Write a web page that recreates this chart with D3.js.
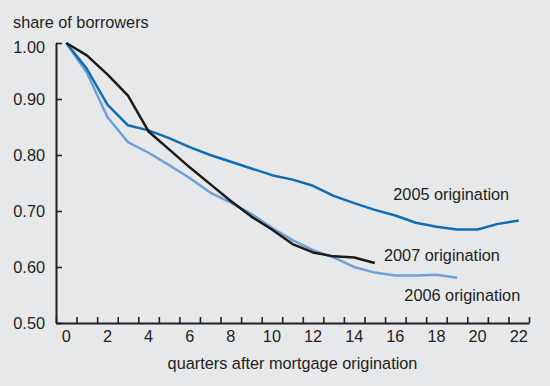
<!DOCTYPE html>
<html>
<head>
<meta charset="utf-8">
<script src="https://cdnjs.cloudflare.com/ajax/libs/d3/7.8.5/d3.min.js"></script>
<style>
  body { margin: 0; background: #e7e8ea; }
  text { font-family: "Liberation Sans", Arial, sans-serif; fill: #231f20; }
</style>
</head>
<body>
<div id="chart"></div>
<script>
var svgWidth = 550;
var svgHeight = 386;

// quarters after origination
var quarters = d3.range(0, 23);

// share of borrowers still current, by origination year
var share2005 = [1.00, 0.954, 0.890, 0.853, 0.844, 0.830, 0.814, 0.800, 0.788, 0.776, 0.764, 0.756,
  0.745, 0.727, 0.714, 0.702, 0.692, 0.679, 0.672, 0.667, 0.667, 0.677, 0.683];
var share2006 = [1.00, 0.947, 0.868, 0.823, 0.804, 0.782, 0.759, 0.733, 0.715, 0.695, 0.670, 0.648,
  0.630, 0.617, 0.600, 0.590, 0.585, 0.585, 0.586, 0.581];
var share2007 = [1.00, 0.978, 0.944, 0.906, 0.842, 0.810, 0.778, 0.748, 0.718, 0.690, 0.667, 0.641,
  0.626, 0.619, 0.617, 0.607];

var xTickLabels = [0, 2, 4, 6, 8, 10, 12, 14, 16, 18, 20, 22];
var yTickValues = [0.5, 0.6, 0.7, 0.8, 0.9, 1.0];

var seriesNames = ["2005 origination", "2006 origination", "2007 origination"];
var seriesColors = ["#106db1", "#6fa1d6", "#1c1a1b"];
var seriesValues = [share2005, share2006, share2007];

// where each line's label sits, in quarters / share units
var labelAt = [[15.9, 0.719], [16.44, 0.540], [15.45, 0.611]];

var margin = { top: 43, right: 21, bottom: 63, left: 56 };
var width = svgWidth - margin.left - margin.right;
var height = svgHeight - margin.top - margin.bottom;

var svg = d3.select("#chart")
  .append("svg")
  .attr("width", svgWidth)
  .attr("height", svgHeight);

var chartGroup = svg.append("g")
  .attr("transform", `translate(${margin.left}, ${margin.top})`);

// quarters are centred between the tick marks
var xScale = d3.scaleLinear()
  .domain([-0.5, 22.5])
  .range([0, width]);

var yScale = d3.scaleLinear()
  .domain([0.5, 1.0])
  .range([height, 0]);

// tick marks on the x axis sit at the half quarters
var bottomAxis = d3.axisBottom(xScale)
  .tickValues(d3.range(-0.5, 23, 1))
  .tickSizeInner(-6)
  .tickSizeOuter(0)
  .tickFormat("");

var leftAxis = d3.axisLeft(yScale)
  .tickValues(yTickValues)
  .tickSizeInner(-6)
  .tickSizeOuter(0)
  .tickPadding(11)
  .tickFormat(d3.format(".2f"));

var xAxis = chartGroup.append("g")
  .attr("transform", `translate(0, ${height})`)
  .call(bottomAxis);

var yAxis = chartGroup.append("g")
  .call(leftAxis);

[xAxis, yAxis].forEach(function(ax) {
  ax.select(".domain").attr("stroke", "#231f20").attr("stroke-width", 2);
  ax.selectAll(".tick line").attr("stroke", "#231f20").attr("stroke-width", 1.6);
});

yAxis.selectAll(".tick text")
  .attr("font-size", "16.3px")
  .attr("fill", "#231f20")
  .attr("font-family", "Liberation Sans, Arial, sans-serif")
  .attr("dy", d => d === 1.0 ? "0.6em" : "0.32em");

// x tick labels every second quarter
chartGroup.append("g")
  .selectAll("text")
  .data(xTickLabels)
  .enter()
  .append("text")
  .attr("x", d => xScale(d))
  .attr("y", height + 19)
  .attr("text-anchor", "middle")
  .attr("font-size", "16.3px")
  .text(d => d);

// axis titles
svg.append("text")
  .attr("x", 13)
  .attr("y", 28)
  .attr("font-size", "16.3px")
  .text("share of borrowers");

chartGroup.append("text")
  .attr("x", width / 2)
  .attr("y", height + 46)
  .attr("text-anchor", "middle")
  .attr("font-size", "16.3px")
  .text("quarters after mortgage origination");

var line = d3.line()
  .x((d, i) => xScale(quarters[i]))
  .y(d => yScale(d));

// draw 2006 first so the darker lines sit on top
var drawOrder = [1, 0, 2];

chartGroup.selectAll(".series")
  .data(drawOrder)
  .enter()
  .append("path")
  .attr("class", "series")
  .attr("d", i => line(seriesValues[i]))
  .attr("fill", "none")
  .attr("stroke", i => seriesColors[i])
  .attr("stroke-width", 2.5)
  .attr("stroke-linejoin", "round");

chartGroup.selectAll(".series-label")
  .data(seriesNames)
  .enter()
  .append("text")
  .attr("class", "series-label")
  .attr("x", (d, i) => xScale(labelAt[i][0]))
  .attr("y", (d, i) => yScale(labelAt[i][1]))
  .attr("font-size", "16.3px")
  .text(d => d);
</script>
</body>
</html>
